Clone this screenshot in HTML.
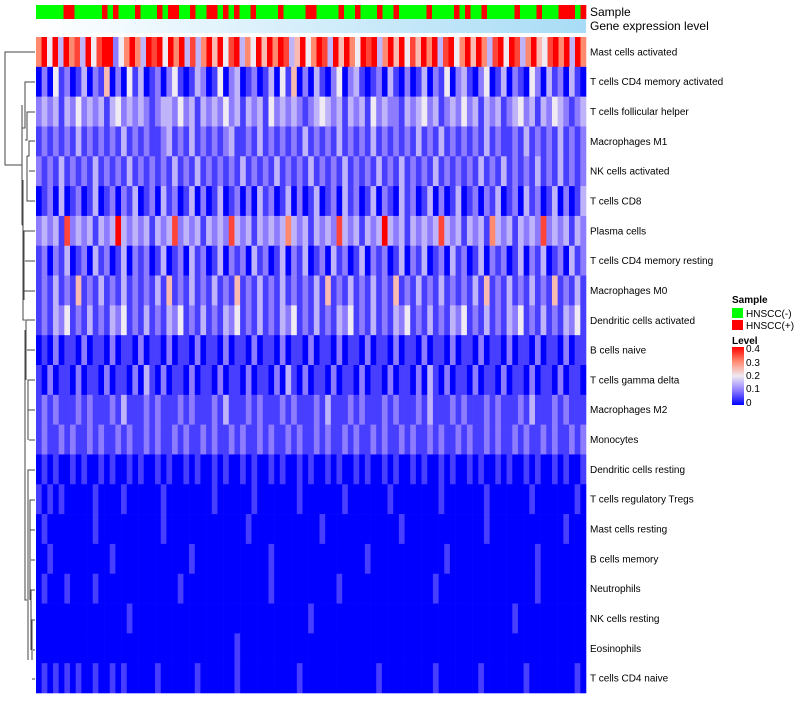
<!DOCTYPE html>
<html><head><meta charset="utf-8"><style>
body{margin:0;background:#fff;width:800px;height:700px;overflow:hidden;font-family:"Liberation Sans",sans-serif}
svg text{font-family:"Liberation Sans",sans-serif}
</style></head><body>
<svg id="chart" width="800" height="700" xmlns="http://www.w3.org/2000/svg">
<defs>
<linearGradient id="gexp" gradientUnits="userSpaceOnUse" x1="36" x2="586" y1="0" y2="0"><stop offset="0" stop-color="#ffffff"/><stop offset="1" stop-color="#a8dcf6"/></linearGradient>
<linearGradient id="lvl" x1="0" x2="0" y1="1" y2="0"><stop offset="0" stop-color="#0000ff"/><stop offset="0.25" stop-color="#8e7cff"/><stop offset="0.5" stop-color="#f0eaf2"/><stop offset="0.75" stop-color="#ff8a70"/><stop offset="1" stop-color="#ff0000"/></linearGradient>
</defs>
<g id="annot"></g>
<rect x="36" y="19" width="550" height="14" fill="url(#gexp)"/>
<text x="590" y="16" font-size="12">Sample</text>
<text x="590" y="30" font-size="12">Gene expression level</text>
<g id="cells"></g>
<g id="labels"></g>
<g stroke="#444" stroke-width="1" fill="none">
<path d="M35,52 H5 V165 H22"/>
<path d="M22,105 V225"/>
<path d="M35,82 H25 V128 H22"/>
<path d="M35,112 H27 V140 H25"/>
<path d="M35,141 H29 V156 H27"/>
<path d="M35,171 H29"/>
<path d="M35,201 H27 V156"/>
<path d="M22,225 H23 V180"/>
<path d="M23,225 V320 H25"/>
<path d="M35,231 H24 V300"/>
<path d="M35,261 H25"/>
<path d="M35,291 H24"/>
<path d="M25,330 V600 H27"/>
<path d="M35,320 H26 V380"/>
<path d="M35,350 H27"/>
<path d="M35,380 H28 V440"/>
<path d="M35,410 H28"/>
<path d="M35,440 H29"/>
<path d="M35,470 H28 V660"/>
<path d="M35,500 H30 V600"/>
<path d="M35,530 H30"/>
<path d="M35,560 H31"/>
<path d="M35,590 H31 V650"/>
<path d="M35,620 H32 V660"/>
<path d="M35,650 H33"/>
<path d="M35,679 H32"/>
</g>
<g>
<text x="732" y="303" font-size="10" font-weight="bold">Sample</text>
<rect x="732" y="308" width="11" height="10" fill="#00ff00"/>
<text x="746" y="317" font-size="10">HNSCC(-)</text>
<rect x="732" y="320" width="11" height="10" fill="#ff0000"/>
<text x="746" y="329" font-size="10">HNSCC(+)</text>
<text x="732" y="344" font-size="10" font-weight="bold">Level</text>
<rect x="732" y="347" width="12" height="58" fill="url(#lvl)"/>
<g font-size="10">
<text x="746" y="352">0.4</text><text x="746" y="366">0.3</text><text x="746" y="379">0.2</text><text x="746" y="392">0.1</text><text x="746" y="406">0</text>
</g>
</g>
</svg>
<script>
const rowNames=["Mast cells activated","T cells CD4 memory activated","T cells follicular helper","Macrophages M1","NK cells activated","T cells CD8","Plasma cells","T cells CD4 memory resting","Macrophages M0","Dendritic cells activated","B cells naive","T cells gamma delta","Macrophages M2","Monocytes","Dendritic cells resting","T cells regulatory  Tregs","Mast cells resting","B cells memory","Neutrophils","NK cells resting","Eosinophils","T cells CD4 naive"];
const sampleGroups="0000011000001010001000101100100110101001000010000110000100100010010000010000101001000001000100011101";
const rowLevels=[
"6848386738478824686387848683736858478364858687358468738586487836858475868378468586378487368547868386",
"0204120130215020413012024101320140230120130415020310240231012031020130214023102401302104203120310",
"2323132423231342323212332423132324231323142323212343231323142322132342312324231323123423132432123",
"1212121312121213121211231213121212311213121212131212131212131212121312131212121312112131212131212",
"2121312121312121312121213121312121213121213121213121213121213121312121312121213121312121312131212",
"0120301201301202130120312013020130120203120130201301203120130210312013020130120213012031201302013",
"2323172323132383232313237232313232732313232363231323273231323832313232373231323163231323272323132",
"1202130120312013021201301203120130212031201302130120312013021201302130120312013021201302130120312",
"1213121512131213121213151213121312151213121312121315121312131215121312131212131512131213121512131",
"1213241213121324121312132412131213241213121324121312132412131213241213121324121312132412131213241",
"0102011020110201102011020110201102011020110201102011020110201102011020110201102011020110201102011",
"1020110201102011020310201102011020110201102031020110201102011020110203102011020110201102011020110",
"1212111212111213111212111212111213111212111212111213111212111212111213111212111212111213111212111",
"1211212112121121211212112121121211212112121121211212112121121211212112121121211212112121121211212",
"0101001010010100101001010010100101001010010100101001010010100101001010010100101001010010100101001",
"1010100000100001000000100000000100000010000000100000001000000010000000010000000100000001000000010",
"0100000000100000000000100000000000000100000000000010000000000000100000000000000100000000000001000",
"0010000000000100000000000001000000000000010000000000000000100000000000001000000000000000100000000",
"0100010000100000000000000100000000000000010000000000010000000000000000100000000000000000100000000",
"0000000000000000100000000000000000000000000000001000000000000000000000000000000000001000000000000",
"0000000000000000000000000000000000010000000000000000000000000000000000000000000000000000000000000",
"0101010100100101000001000000100000010000000000100000000000001000000000100000001000000010000000010"];
const X0=36,X1=586,Y0=37,Y1=693;
const NS="http://www.w3.org/2000/svg";
const stops=[[0,[0,0,255]],[0.1,[142,124,255]],[0.2,[240,234,242]],[0.3,[255,138,112]],[0.4,[255,0,0]]];
function color(v){v=Math.max(0,Math.min(0.4,v));for(let i=0;i<stops.length-1;i++){const [a,ca]=stops[i],[b,cb]=stops[i+1];if(v<=b){const t=(v-a)/(b-a);return "rgb("+ca.map((c,k)=>Math.round(c+(cb[k]-c)*t)).join(",")+")";}}return "rgb(255,0,0)";}
const rowH=(Y1-Y0)/rowNames.length;
function yPos(i){return Y0+i*rowH;}
function xPos(j,n){return X0+j*(X1-X0)/n;}
const cells=document.getElementById('cells');
rowLevels.forEach((s,i)=>{const n=s.length;for(let j=0;j<n;j++){
 const r=document.createElementNS(NS,'rect');
 
 
 const x=xPos(j,n);r.setAttribute('x',x.toFixed(2));r.setAttribute('y',yPos(i).toFixed(2));
 r.setAttribute('width',(xPos(j+1,n)-x+0.3).toFixed(2));r.setAttribute('height',(rowH+0.3).toFixed(2));
 r.setAttribute('fill',color(parseInt(s[j])*0.05));cells.appendChild(r);}});
const labels=document.getElementById('labels');
rowNames.forEach((nm,i)=>{const t=document.createElementNS(NS,'text');
 
 
 t.setAttribute('x',590);t.setAttribute('y',(yPos(i)+rowH/2+3.5).toFixed(1));t.setAttribute('font-size','10');t.textContent=nm;labels.appendChild(t);});
const annot=document.getElementById('annot');
const ns=sampleGroups.length;
for(let j=0;j<ns;j++){const r=document.createElementNS(NS,'rect');
 
 
 const x=xPos(j,ns);r.setAttribute('x',x.toFixed(2));r.setAttribute('y',5);r.setAttribute('width',(xPos(j+1,ns)-x+0.3).toFixed(2));r.setAttribute('height',14);
 r.setAttribute('fill',sampleGroups[j]==='1'?'#ff0000':'#00ff00');annot.appendChild(r);}
</script>
</body></html>
